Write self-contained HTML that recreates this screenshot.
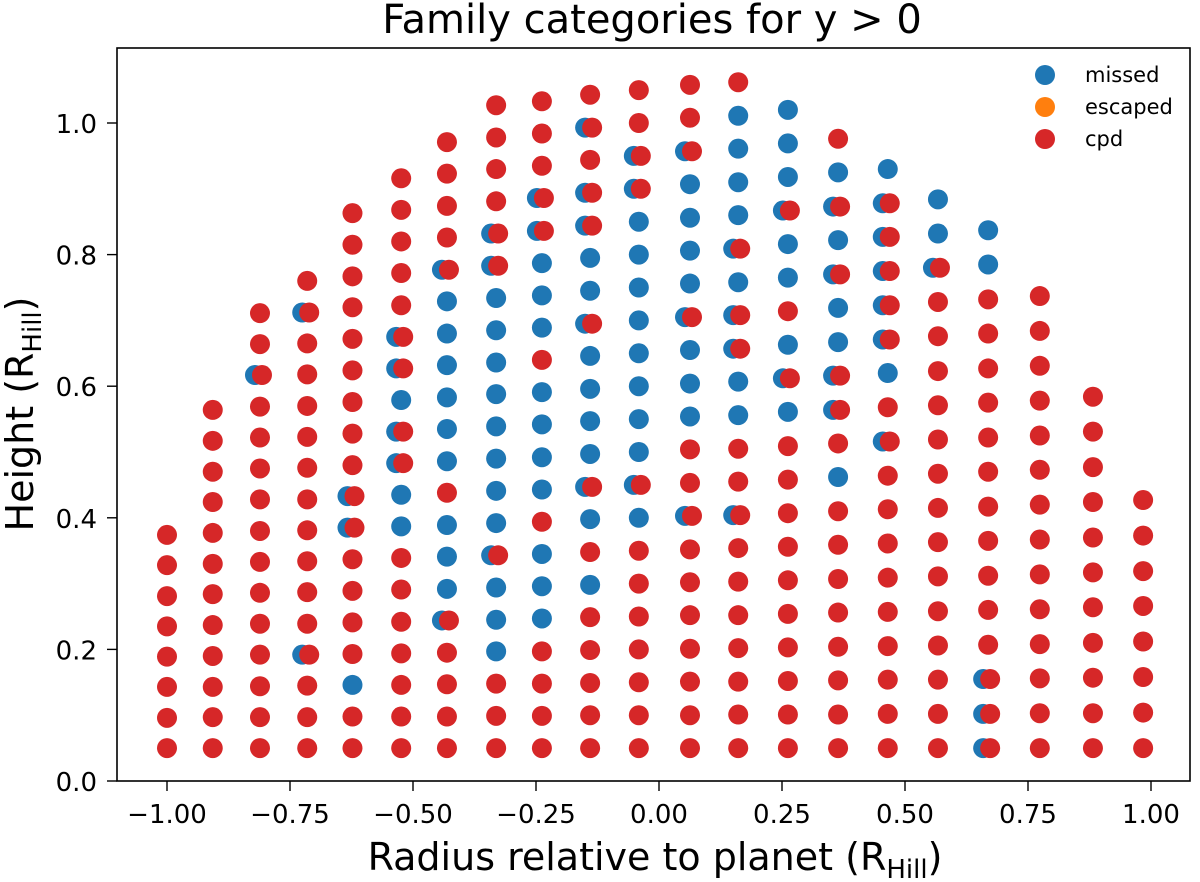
<!DOCTYPE html>
<html><head><meta charset="utf-8"><style>
html,body{margin:0;padding:0;background:#fff;}
svg{display:block;font-family:"DejaVu Sans","Liberation Sans",sans-serif;}
</style></head><body>
<svg id="chart" width="1200" height="882" viewBox="0 0 1200 882" xmlns="http://www.w3.org/2000/svg">
<text x="652" y="33" font-size="40" text-anchor="middle" fill="#000">Family categories for y &gt; 0</text>
<g id="points"></g>
<rect x="117" y="48" width="1073" height="733" fill="none" stroke="#000" stroke-width="1.6"/>
<g id="xticks"></g>
<g id="yticks"></g>
<text x="655" y="870" font-size="38" text-anchor="middle">Radius relative to planet (R<tspan font-size="26" dy="8">Hill</tspan><tspan dy="-8">)</tspan></text>
<text transform="translate(33,414) rotate(-90)" font-size="38" text-anchor="middle">Height (R<tspan font-size="26" dy="8">Hill</tspan><tspan dy="-8">)</tspan></text>
<g>
<circle cx="1045" cy="75" r="10" fill="#1f77b4"/>
<text x="1085" y="82" font-size="21">missed</text>
<circle cx="1045" cy="107" r="10" fill="#ff7f0e"/>
<text x="1085" y="114" font-size="21">escaped</text>
<circle cx="1045" cy="139" r="10" fill="#d62728"/>
<text x="1085" y="146" font-size="21">cpd</text>
</g>
</svg>
<script>
const colX = [-1.0,-0.907,-0.811,-0.715,-0.623,-0.524,-0.431,-0.331,-0.238,-0.140,-0.041,0.063,0.161,0.262,0.364,0.465,0.567,0.669,0.774,0.882,0.984];
const colY = [
[0.050,0.096,0.143,0.189,0.235,0.281,0.328,0.374],
[0.050,0.097,0.143,0.190,0.237,0.284,0.330,0.377,0.424,0.470,0.517,0.564],
[0.050,0.097,0.144,0.192,0.239,0.286,0.333,0.380,0.428,0.475,0.522,0.569,0.617,0.664,0.711],
[0.050,0.097,0.145,0.192,0.239,0.287,0.334,0.381,0.428,0.476,0.523,0.570,0.618,0.665,0.712,0.760],
[0.050,0.098,0.146,0.193,0.241,0.289,0.337,0.385,0.433,0.480,0.528,0.576,0.624,0.672,0.720,0.767,0.815,0.863],
[0.050,0.098,0.146,0.194,0.242,0.291,0.339,0.387,0.435,0.483,0.531,0.579,0.627,0.675,0.723,0.772,0.820,0.868,0.916],
[0.050,0.098,0.147,0.195,0.244,0.292,0.341,0.389,0.438,0.486,0.535,0.583,0.632,0.680,0.729,0.777,0.826,0.874,0.923,0.971],
[0.050,0.099,0.148,0.197,0.245,0.294,0.343,0.392,0.441,0.490,0.539,0.588,0.636,0.685,0.734,0.783,0.832,0.881,0.930,0.978,1.027],
[0.050,0.099,0.148,0.197,0.247,0.296,0.345,0.394,0.443,0.492,0.542,0.591,0.640,0.689,0.738,0.787,0.836,0.886,0.935,0.984,1.033],
[0.050,0.100,0.149,0.199,0.249,0.298,0.348,0.398,0.447,0.497,0.547,0.596,0.646,0.695,0.745,0.795,0.844,0.894,0.944,0.993,1.043],
[0.050,0.100,0.150,0.200,0.250,0.300,0.350,0.400,0.450,0.500,0.550,0.600,0.650,0.700,0.750,0.800,0.850,0.900,0.950,1.000,1.050],
[0.050,0.100,0.151,0.201,0.252,0.302,0.352,0.403,0.453,0.504,0.554,0.604,0.655,0.705,0.756,0.806,0.856,0.907,0.957,1.008,1.058],
[0.050,0.101,0.151,0.202,0.252,0.303,0.354,0.404,0.455,0.505,0.556,0.607,0.657,0.708,0.758,0.809,0.860,0.910,0.961,1.011,1.062],
[0.050,0.101,0.152,0.203,0.254,0.305,0.356,0.407,0.458,0.509,0.561,0.612,0.663,0.714,0.765,0.816,0.867,0.918,0.969,1.020],
[0.050,0.101,0.153,0.204,0.256,0.307,0.359,0.410,0.462,0.513,0.564,0.616,0.667,0.719,0.770,0.822,0.873,0.925,0.976],
[0.050,0.102,0.154,0.205,0.257,0.309,0.361,0.413,0.464,0.516,0.568,0.620,0.671,0.723,0.775,0.827,0.878,0.930],
[0.050,0.102,0.154,0.206,0.258,0.311,0.363,0.415,0.467,0.519,0.571,0.623,0.676,0.728,0.780,0.832,0.884],
[0.050,0.102,0.155,0.207,0.260,0.312,0.365,0.417,0.470,0.522,0.575,0.627,0.680,0.732,0.785,0.837],
[0.050,0.103,0.156,0.208,0.261,0.314,0.367,0.420,0.473,0.525,0.578,0.631,0.684,0.737],
[0.050,0.103,0.157,0.210,0.264,0.317,0.370,0.424,0.477,0.531,0.584],
[0.050,0.104,0.158,0.212,0.266,0.319,0.373,0.427]
];
// categories listed top-to-bottom: r=cpd, b=missed, m=missed+cpd overlapping
const colCats = [
"rrrrrrrr","rrrrrrrrrrrr","rrmrrrrrrrrrrrr","rmrrrrrrrrrrmrrr","rrrrrrrrrmmrrrrbrr",
"rrrrrmmbmmbbrrrrrrr","rrrrmbbbbbbrbbbmrrrr","rrrrmmbbbbbbbbmbbbrrr","rrrmmbbbrbbbbrbbbrrrr",
"rmrmmbbmbbbbmbrbrrrrr","rrmmbbbbbbbbmbrrrrrrr","rrmbbbbmbbbrrmrrrrrrr","rbbbbmbmmbbrrmrrrrrrr",
"bbbmbbrbmbrrrrrrrrrr","rbmbmbbmmrbrrrrrrrr","bmmmmmbrmrrrrrrrrr","bbmrrrrrrrrrrrrrr",
"bbrrrrrrrrrrrmmm","rrrrrrrrrrrrrr","rrrrrrrrrrr","rrrrrrrr"
];
const xTicks = [-1.0,-0.75,-0.5,-0.25,0,0.25,0.5,0.75,1.0];
const xTickLabels = ["\u22121.00","\u22120.75","\u22120.50","\u22120.25","0.00","0.25","0.50","0.75","1.00"];
const yTicks = [0,0.2,0.4,0.6,0.8,1.0];
const yTickLabels = ["0.0","0.2","0.4","0.6","0.8","1.0"];

const NS="http://www.w3.org/2000/svg";
function sx(v){return 659+v*492;}
function sy(v){return 781-v*658;}
function mk(tag,attrs){const e=document.createElementNS(NS,tag);for(const k in attrs)e.setAttribute(k,attrs[k]);return e;}
const BLUE="#1f77b4",RED="#d62728";
const pg=document.getElementById('points');
colX.forEach((x,ci)=>{
  const ys=colY[ci],cats=colCats[ci],n=ys.length;
  ys.forEach((y,k)=>{
    const c=cats[n-1-k]||'r';
    const cx=sx(x),cy=sy(y);
    if(c==='b'||c==='m'){
      const b=mk('circle',{cx:c==='m'?cx-5:cx,cy:cy,r:10,fill:BLUE});
      
      
      pg.appendChild(b);
    }
    if(c==='r'||c==='m'){
      const r=mk('circle',{cx:c==='m'?cx+2:cx,cy:cy,r:10,fill:RED});
      
      
      pg.appendChild(r);
    }
  });
});
const xg=document.getElementById('xticks');
xTicks.forEach((v,i)=>{
  const t=mk('line',{x1:sx(v),x2:sx(v),y1:781,y2:791,stroke:'#000','stroke-width':1.4});
  
  
  xg.appendChild(t);
  const l=mk('text',{x:sx(v),y:823,'font-size':26,'text-anchor':'middle'});
  
  
  l.textContent=xTickLabels[i];xg.appendChild(l);
});
const yg=document.getElementById('yticks');
yTicks.forEach((v,i)=>{
  const t=mk('line',{x1:107,x2:117,y1:sy(v),y2:sy(v),stroke:'#000','stroke-width':1.4});
  
  
  yg.appendChild(t);
  const l=mk('text',{x:97,y:sy(v)+10,'font-size':26,'text-anchor':'end'});
  
  
  l.textContent=yTickLabels[i];yg.appendChild(l);
});
</script>
</body></html>
